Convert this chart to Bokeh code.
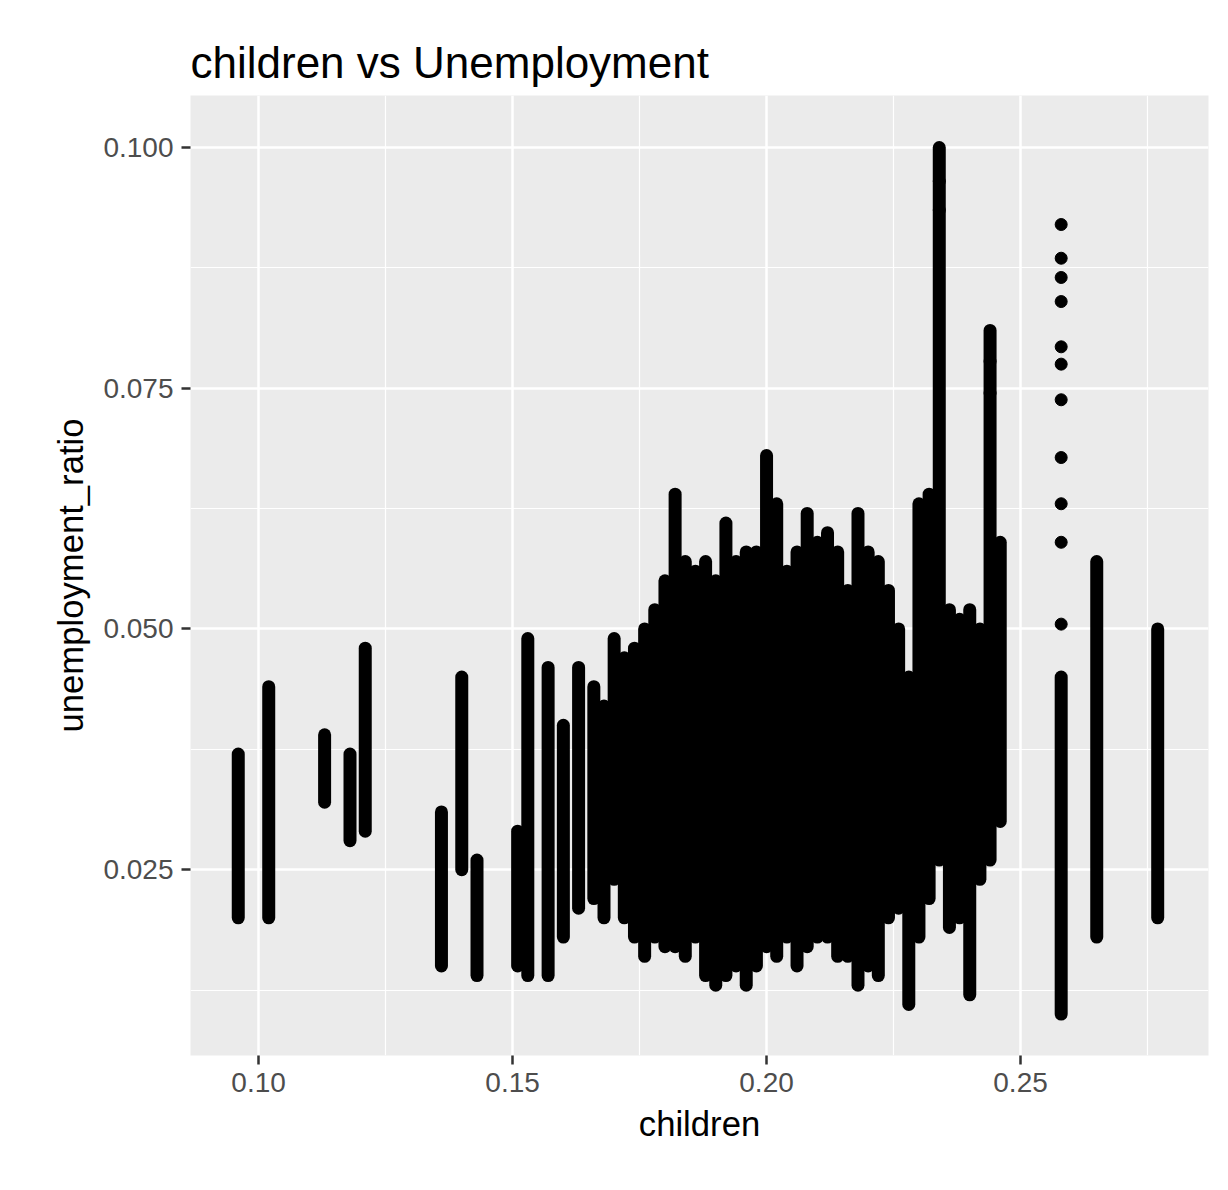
from bokeh.plotting import figure
from bokeh.models import FixedTicker, Range1d
from bokeh.embed import file_html
from bokeh.resources import INLINE

# each vertical run of points: children value, lowest and highest unemployment_ratio
col_x = [0.096, 0.102, 0.113, 0.118, 0.121, 0.136, 0.140, 0.143, 0.151, 0.153,
         0.157, 0.160, 0.163, 0.166, 0.168, 0.170, 0.172, 0.174, 0.176, 0.178,
         0.180, 0.182, 0.184, 0.186, 0.188, 0.190, 0.192, 0.194, 0.196, 0.198,
         0.200, 0.202, 0.204, 0.206, 0.208, 0.210, 0.212, 0.214, 0.216, 0.218,
         0.220, 0.222, 0.224, 0.226, 0.228, 0.230, 0.232, 0.234, 0.236, 0.238,
         0.240, 0.242, 0.244, 0.246, 0.258, 0.265, 0.277]
col_lo = [0.020, 0.020, 0.032, 0.028, 0.029, 0.015, 0.025, 0.014, 0.015, 0.014,
          0.014, 0.018, 0.021, 0.022, 0.020, 0.024, 0.020, 0.018, 0.016, 0.018,
          0.017, 0.017, 0.016, 0.018, 0.014, 0.013, 0.014, 0.015, 0.013, 0.015,
          0.017, 0.016, 0.018, 0.015, 0.017, 0.018, 0.018, 0.016, 0.016, 0.013,
          0.015, 0.014, 0.020, 0.021, 0.011, 0.018, 0.022, 0.026, 0.019, 0.020,
          0.012, 0.024, 0.026, 0.030, 0.010, 0.018, 0.020]
col_hi = [0.037, 0.044, 0.039, 0.037, 0.048, 0.031, 0.045, 0.026, 0.029, 0.049,
          0.046, 0.040, 0.046, 0.044, 0.042, 0.049, 0.047, 0.048, 0.050, 0.052,
          0.055, 0.064, 0.057, 0.056, 0.057, 0.055, 0.061, 0.057, 0.058, 0.058,
          0.068, 0.063, 0.056, 0.058, 0.062, 0.059, 0.060, 0.058, 0.054, 0.062,
          0.058, 0.057, 0.054, 0.050, 0.045, 0.063, 0.064, 0.100, 0.052, 0.051,
          0.052, 0.050, 0.081, 0.059, 0.045, 0.057, 0.050]

# isolated points above the runs
pt_x = [0.258, 0.258, 0.258, 0.258, 0.258, 0.258, 0.258, 0.258, 0.258, 0.258,
        0.258, 0.234, 0.234, 0.244, 0.244]
pt_y = [0.0505, 0.059, 0.063, 0.0678, 0.0738, 0.0775, 0.0793, 0.084, 0.0865,
        0.0885, 0.092, 0.0935, 0.0965, 0.0745, 0.0778]

p = figure(width=1220, height=1182, output_backend="svg", toolbar_location=None,
           x_range=Range1d(0.0866, 0.287), y_range=Range1d(0.0057, 0.1054),
           min_border_left=190, min_border_right=12, min_border_top=95,
           min_border_bottom=127, title="children vs Unemployment")

p.background_fill_color = "#EBEBEB"
p.border_fill_color = "white"
p.outline_line_color = None
p.title.text_font = "Liberation Sans"
p.title.text_font_size = "33pt"
p.title.text_font_style = "normal"
p.title.text_color = "black"
p.title.offset = 0
p.title.standoff = 18

p.segment(x0=col_x, y0=col_lo, x1=col_x, y1=col_hi, line_color="black",
          line_width=13, line_cap="round")
p.scatter(x=pt_x, y=pt_y, size=12, color="black")

p.xaxis.ticker = FixedTicker(ticks=[0.10, 0.15, 0.20, 0.25],
                             minor_ticks=[0.075, 0.125, 0.175, 0.225, 0.275])
p.yaxis.ticker = FixedTicker(ticks=[0.025, 0.050, 0.075, 0.100],
                             minor_ticks=[0.0125, 0.0375, 0.0625, 0.0875])
p.xaxis.major_label_overrides = {0.10: "0.10", 0.15: "0.15", 0.20: "0.20", 0.25: "0.25"}
p.yaxis.major_label_overrides = {0.025: "0.025", 0.05: "0.050", 0.075: "0.075", 0.1: "0.100"}

for ax in (p.xaxis, p.yaxis):
    ax.axis_line_color = None
    ax.major_tick_line_color = "#333333"
    ax.major_tick_line_width = 2.5
    ax.major_tick_out = 9
    ax.major_tick_in = 0
    ax.minor_tick_line_color = None
    ax.major_label_text_font = "Liberation Sans"
    ax.major_label_text_font_size = "21pt"
    ax.major_label_text_color = "#4D4D4D"
    ax.major_label_standoff = 8
    ax.axis_label_text_font = "Liberation Sans"
    ax.axis_label_text_font_size = "26pt"
    ax.axis_label_text_font_style = "normal"
    ax.axis_label_text_color = "black"
    ax.axis_label_standoff = 10

p.xaxis.axis_label = "children"
p.yaxis.axis_label = "unemployment_ratio"

for g in (p.xgrid, p.ygrid):
    g.grid_line_color = "white"
    g.grid_line_width = 2.5
    g.minor_grid_line_color = "white"
    g.minor_grid_line_width = 1.2

open("out.html", "w").write(file_html(p, INLINE))
